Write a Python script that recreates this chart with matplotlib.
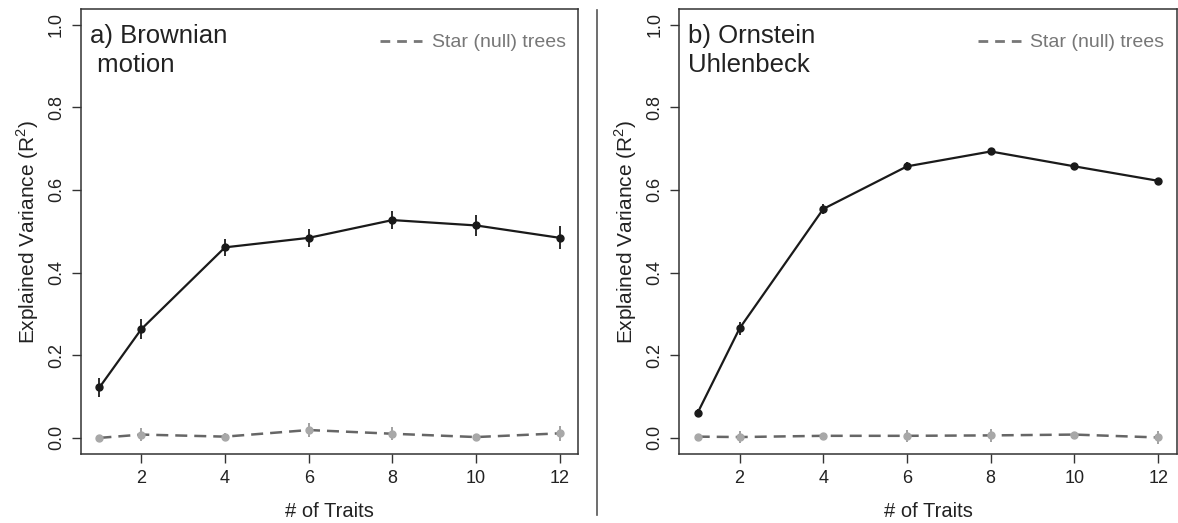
import matplotlib
matplotlib.use("Agg")
import matplotlib.pyplot as plt
from matplotlib.lines import Line2D

traits = [1, 2, 4, 6, 8, 10, 12]

bm_mean = [0.122, 0.263, 0.461, 0.484, 0.527, 0.514, 0.484]
bm_err = [0.024, 0.024, 0.020, 0.022, 0.022, 0.026, 0.028]
bm_null_mean = [0.000, 0.008, 0.003, 0.019, 0.010, 0.002, 0.011]
bm_null_err = [0.003, 0.015, 0.008, 0.017, 0.016, 0.008, 0.018]

ou_mean = [0.061, 0.265, 0.554, 0.657, 0.693, 0.657, 0.622]
ou_err = [0.008, 0.015, 0.013, 0.010, 0.008, 0.008, 0.006]
ou_null_mean = [0.003, 0.002, 0.005, 0.005, 0.006, 0.008, 0.001]
ou_null_err = [0.003, 0.015, 0.008, 0.015, 0.015, 0.006, 0.016]

panel_titles = ["a) Brownian\n motion", "b) Ornstein\nUhlenbeck"]
legend_label = "Star (null) trees"
xlabel = "# of Traits"
ylabel = "Explained Variance (R$^2$)"
xticks = [2, 4, 6, 8, 10, 12]
yticks = [0.0, 0.2, 0.4, 0.6, 0.8, 1.0]

plt.rcParams['font.family'] = ['Liberation Sans', 'DejaVu Sans']
plt.rcParams['mathtext.fontset'] = 'custom'
plt.rcParams['mathtext.rm'] = 'Liberation Sans'

W, H = 1178, 523
fig = plt.figure(figsize=(W / 100, H / 100), dpi=100)
bottom = 1 - 454 / H
height = (454 - 9.3) / H
axes = [fig.add_axes([81 / W, bottom, 497.3 / W, height]),
        fig.add_axes([679.3 / W, bottom, 497.3 / W, height])]

data = [(bm_mean, bm_err, bm_null_mean, bm_null_err),
        (ou_mean, ou_err, ou_null_mean, ou_null_err)]

for ax, (m, e, nm, ne), title in zip(axes, data, panel_titles):
    # null (star trees)
    ax.errorbar(traits, nm, yerr=ne, fmt='none', ecolor='#9a9a9a', elinewidth=1.3, capsize=0, zorder=2)
    ax.plot(traits, nm, color='#666666', lw=1.8, ls=(0, (4.8, 2.8)), zorder=3)
    ax.plot(traits, nm, 'o', color='#a8a8a8', ms=5, zorder=4)
    # main
    ax.errorbar(traits, m, yerr=e, fmt='none', ecolor='#1a1a1a', elinewidth=1.3, capsize=0, zorder=5)
    ax.plot(traits, m, '-o', color='#1a1a1a', lw=1.6, ms=5, zorder=6)

    ax.set_xlim(0.56, 12.44)
    ax.set_ylim(-0.039, 1.037)
    ax.set_xticks(xticks)
    ax.set_yticks(yticks)
    ax.set_yticklabels([f"{v:.1f}" for v in yticks], rotation=90, va='center')
    ax.tick_params(axis='both', direction='out', length=6.5, width=1, color='#333333',
                   labelsize=13, labelcolor='#222222')
    ax.tick_params(axis='x', pad=5)
    ax.tick_params(axis='y', pad=5)
    for s in ax.spines.values():
        s.set_color('#333333')
        s.set_linewidth(1.1)
    ax.set_xlabel(xlabel, fontsize=14.5, color='#222222', labelpad=11)
    ax.set_ylabel(ylabel, fontsize=15, color='#222222', labelpad=5)
    ax.text(0.018, 0.968, title, transform=ax.transAxes, ha='left', va='top',
            fontsize=18.5, color='#222222', linespacing=1.3)
    h = Line2D([], [], color='#777777', lw=2, ls=(0, (3.5, 2.5)))
    leg = ax.legend([h], [legend_label], loc='center right', frameon=False,
                    bbox_to_anchor=(0.991, 0.925), bbox_transform=ax.transAxes,
                    fontsize=14, handlelength=2.2, handletextpad=0.5,
                    borderaxespad=0.0)
    for t in leg.get_texts():
        t.set_color('#777777')

fig.add_artist(Line2D([596.7 / W, 596.7 / W], [1 - 10 / H, 1 - 515 / H],
                      color='#555555', lw=1.2, transform=fig.transFigure))

fig.savefig("out.png", dpi=100)
